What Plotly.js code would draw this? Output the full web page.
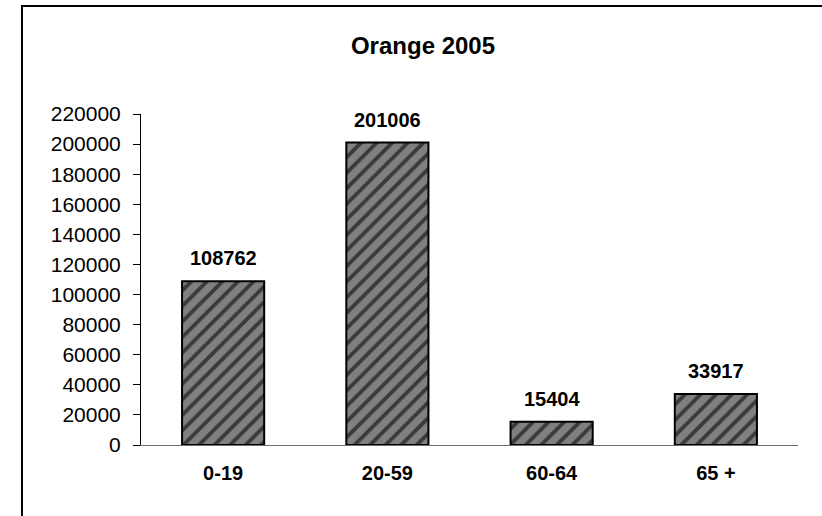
<!DOCTYPE html>
<html>
<head>
<meta charset="utf-8">
<script src="https://cdn.plot.ly/plotly-3.0.1.min.js"></script>
<style>
  html, body { margin: 0; padding: 0; background: #fff; }
  #wrap { position: relative; width: 822px; height: 516px; overflow: hidden; }
  #chart { width: 822px; height: 516px; }
  #frame { position: absolute; left: 21px; top: 5px; width: 900px; height: 700px;
           border-left: 2px solid #000; border-top: 2px solid #000; pointer-events: none; }
</style>
</head>
<body>
<div id="wrap">
  <div id="chart"></div>
  <div id="frame"></div>
</div>
<script>
const chartTitle = 'Orange 2005';
const categories = ['0-19', '20-59', '60-64', '65 +'];
const values = [108762, 201006, 15404, 33917];
const yTicks = [0, 20000, 40000, 60000, 80000, 100000, 120000, 140000, 160000, 180000, 200000, 220000];

const FONT = 'Liberation Sans, Arial, sans-serif';

const trace = {
  type: 'bar',
  x: categories,
  y: values,
  marker: {
    color: '#808080',
    line: { color: '#000000', width: 2 },
    pattern: { shape: '/', fgcolor: '#3a3a3a', bgcolor: '#808080', size: 11, solidity: 0.35, fillmode: 'replace' }
  },
  hoverinfo: 'none'
};

const annotations = categories.map((c, i) => ({
  x: c, y: values[i], xref: 'x', yref: 'y',
  text: '<b>' + values[i] + '</b>',
  showarrow: false, yanchor: 'bottom', yshift: 10,
  font: { family: FONT, size: 20, color: '#000' }
}));

const layout = {
  width: 822, height: 516,
  margin: { l: 141, r: 24, t: 114, b: 71, pad: 0 },
  paper_bgcolor: '#ffffff', plot_bgcolor: '#ffffff',
  showlegend: false,
  bargap: 0.5,
  title: {
    text: '<b>' + chartTitle + '</b>',
    font: { family: FONT, size: 24, color: '#000' },
    x: 423 / 822, xref: 'container', xanchor: 'center',
    y: 1 - 46 / 516, yref: 'container', yanchor: 'middle'
  },
  xaxis: {
    type: 'category',
    showline: true, linecolor: '#6e6e6e', linewidth: 1,
    ticks: '', showgrid: false, zeroline: false,
    tickfont: { family: FONT, size: 20, color: '#000', weight: 'bold' },
    ticklabelstandoff: 10
  },
  yaxis: {
    range: [0, 220000],
    tickvals: yTicks,
    ticktext: yTicks.map(String),
    showline: true, linecolor: '#000', linewidth: 1,
    ticks: 'outside', ticklen: 7, tickcolor: '#000', tickwidth: 1,
    showgrid: false, zeroline: false,
    tickfont: { family: FONT, size: 21, color: '#000' },
    ticklabelstandoff: 8
  },
  annotations: annotations
};

Plotly.newPlot('chart', [trace], layout, { staticPlot: true, displayModeBar: false });
</script>
</body>
</html>
